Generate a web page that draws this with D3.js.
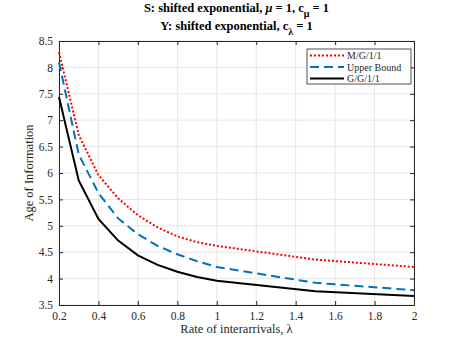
<!DOCTYPE html>
<html>
<head>
<meta charset="utf-8">
<script src="https://cdn.jsdelivr.net/npm/d3@7"></script>
<style>
  body { margin: 0; background: #fff; }
  svg { font-family: "Liberation Serif", "Times New Roman", serif; }
</style>
</head>
<body>
<div id="chart"></div>
<script>
// rate of interarrivals
const lambdas = [0.2, 0.3, 0.4, 0.5, 0.6, 0.7, 0.8, 0.9, 1.0, 1.5, 2.0];
const mg11 = [8.29, 6.72, 5.96, 5.52, 5.20, 4.97, 4.80, 4.69, 4.62, 4.36, 4.22];
const upperBound = [8.10, 6.35, 5.62, 5.14, 4.84, 4.62, 4.46, 4.33, 4.22, 3.92, 3.78];
const gg11 = [7.44, 5.86, 5.13, 4.72, 4.44, 4.26, 4.13, 4.03, 3.96, 3.76, 3.67];
const xTicks = [0.2, 0.4, 0.6, 0.8, 1, 1.2, 1.4, 1.6, 1.8, 2];
const yTicks = [3.5, 4, 4.5, 5, 5.5, 6, 6.5, 7, 7.5, 8, 8.5];
const seriesNames = ['M/G/1/1', 'Upper Bound', 'G/G/1/1'];

const W = 457, H = 343;
const margin = {left: 59, right: 43, top: 41, bottom: 38};
const width = W - margin.left - margin.right;
const height = H - margin.top - margin.bottom;
const serif = '"Liberation Serif", "Times New Roman", serif';

const svg = d3.select('#chart').append('svg')
    .attr('width', W)
    .attr('height', H);

const g = svg.append('g')
    .attr('transform', `translate(${margin.left}, ${margin.top})`);

const xScale = d3.scaleLinear().domain([0.2, 2]).range([0, width]);
const yScale = d3.scaleLinear().domain([3.5, 8.5]).range([height, 0]);

// grid
g.append('g')
    .selectAll('line')
    .data(xTicks)
    .enter()
    .append('line')
    .attr('x1', d => xScale(d)).attr('x2', d => xScale(d))
    .attr('y1', 0).attr('y2', height)
    .attr('stroke', '#e6e6e6').attr('stroke-width', 1);
g.append('g')
    .selectAll('line')
    .data(yTicks)
    .enter()
    .append('line')
    .attr('y1', d => yScale(d)).attr('y2', d => yScale(d))
    .attr('x1', 0).attr('x2', width)
    .attr('stroke', '#e6e6e6').attr('stroke-width', 1);

// axes (ticks point inward, box on all sides)
const axisColor = '#262626';
const styleAxis = sel => {
    sel.attr('font-family', serif).attr('font-size', 11.5);
    sel.select('.domain').attr('stroke', axisColor);
    sel.selectAll('.tick line').attr('stroke', axisColor);
    sel.selectAll('.tick text').attr('fill', axisColor);
};

g.append('g')
    .attr('transform', `translate(0, ${height})`)
    .call(d3.axisBottom(xScale).tickValues(xTicks).tickFormat(d3.format('')).tickSizeInner(-4).tickSizeOuter(0).tickPadding(7))
    .call(styleAxis);
g.append('g')
    .call(d3.axisTop(xScale).tickValues(xTicks).tickFormat('').tickSizeInner(-4).tickSizeOuter(0))
    .call(styleAxis);
g.append('g')
    .call(d3.axisLeft(yScale).tickValues(yTicks).tickFormat(d3.format('')).tickSizeInner(-4).tickSizeOuter(0).tickPadding(6))
    .call(styleAxis);
g.append('g')
    .attr('transform', `translate(${width}, 0)`)
    .call(d3.axisRight(yScale).tickValues(yTicks).tickFormat('').tickSizeInner(-4).tickSizeOuter(0))
    .call(styleAxis);

// lines
const line = d3.line()
    .x(d => xScale(d[0]))
    .y(d => yScale(d[1]));

const series = [
    {name: seriesNames[0], values: mg11, color: '#ff0000', dash: '2,2', w: 2},
    {name: seriesNames[1], values: upperBound, color: '#0072bd', dash: '9,5', w: 2},
    {name: seriesNames[2], values: gg11, color: '#000000', dash: null, w: 2}
];

series.forEach(s => {
    g.append('path')
        .data([lambdas.map((x, i) => [x, s.values[i]])])
        .style('fill', 'none')
        .attr('stroke', s.color)
        .attr('stroke-width', s.w)
        .attr('stroke-dasharray', s.dash)
        .attr('d', line);
});

// legend
const legend = g.append('g')
    .attr('transform', `translate(${width - 107}, 8)`);
legend.append('rect')
    .attr('width', 104).attr('height', 35)
    .attr('fill', '#fff')
    .attr('stroke', axisColor).attr('stroke-width', 0.8);
series.forEach((s, i) => {
    const yy = 6.5 + i * 11.5;
    legend.append('line')
        .attr('x1', 3).attr('x2', 37)
        .attr('y1', yy).attr('y2', yy)
        .attr('stroke', s.color)
        .attr('stroke-width', s.w)
        .attr('stroke-dasharray', s.dash);
    legend.append('text')
        .attr('x', 40).attr('y', yy)
        .attr('dy', '0.35em')
        .style('font-size', '10px')
        .attr('fill', axisColor)
        .text(s.name);
});

// axis labels
svg.append('text')
    .attr('x', margin.left + width / 2)
    .attr('y', H - 10)
    .attr('text-anchor', 'middle')
    .style('font-size', '12.5px')
    .attr('fill', axisColor)
    .text('Rate of interarrivals, λ');

svg.append('text')
    .attr('transform', `translate(33, ${margin.top + height / 2}) rotate(-90)`)
    .attr('text-anchor', 'middle')
    .style('font-size', '12.5px')
    .attr('fill', axisColor)
    .text('Age of Information');

// title
const t1 = svg.append('text')
    .attr('x', margin.left + width / 2)
    .attr('y', 12)
    .attr('text-anchor', 'middle')
    .style('font-size', '12.5px')
    .style('font-weight', 'bold')
    .attr('fill', '#000');
t1.append('tspan').text('S: shifted exponential, ');
t1.append('tspan').style('font-style', 'italic').text('μ');
t1.append('tspan').text(' = 1, c');
t1.append('tspan').attr('dy', 5).style('font-size', '10px').text('μ');
t1.append('tspan').attr('dy', -5).text(' = 1');

const t2 = svg.append('text')
    .attr('x', margin.left + width / 2)
    .attr('y', 30)
    .attr('text-anchor', 'middle')
    .style('font-size', '12.5px')
    .style('font-weight', 'bold')
    .attr('fill', '#000');
t2.append('tspan').text('Y: shifted exponential, c');
t2.append('tspan').attr('dy', 5).style('font-size', '10px').text('λ');
t2.append('tspan').attr('dy', -5).text(' = 1');
</script>
</body>
</html>
